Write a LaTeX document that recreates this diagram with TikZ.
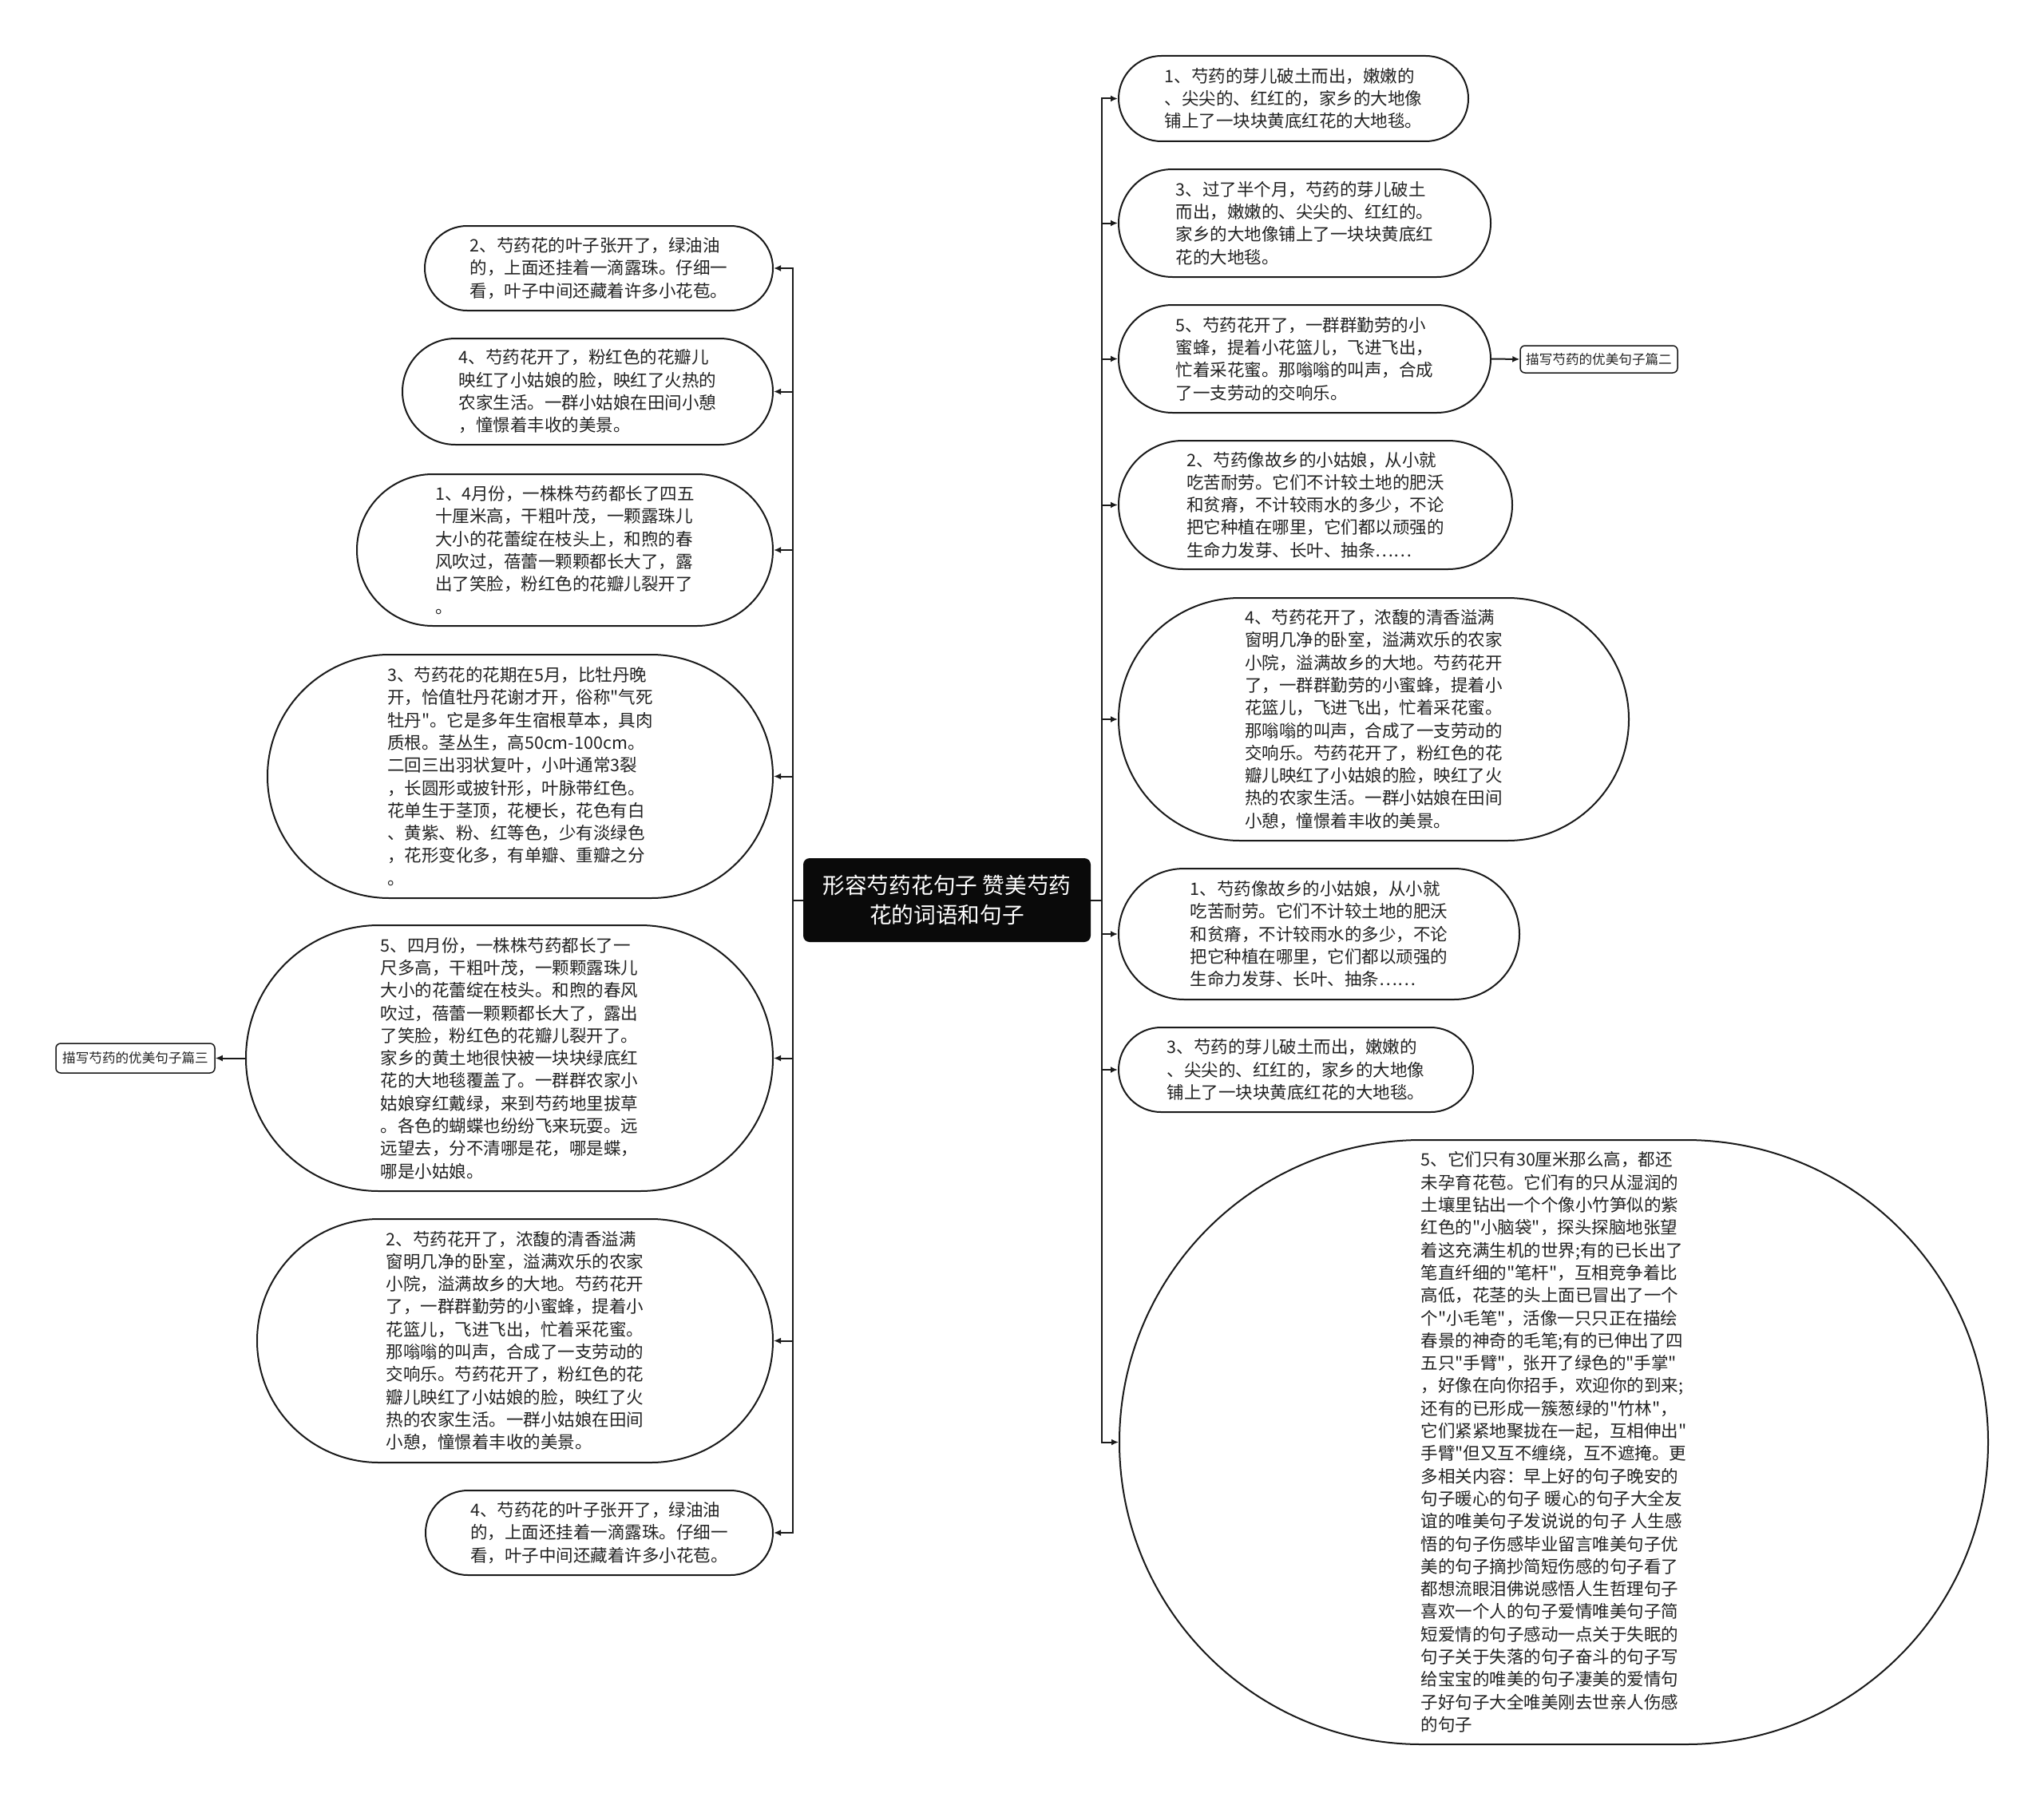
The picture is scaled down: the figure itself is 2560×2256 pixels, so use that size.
\documentclass[tikz,border=0pt]{standalone}
\usepackage{fontspec}
\setmainfont{Noto Sans CJK SC}[Ligatures=TeXOff]
\usepackage{tikz}
\usetikzlibrary{arrows.meta}
\definecolor{ink}{HTML}{222222}
\definecolor{edge}{HTML}{1A1A1A}
\definecolor{rootbg}{HTML}{0A0A0A}
\tikzset{
  leaf/.style={draw=edge, line width=2pt, fill=white, text=ink, inner sep=0pt,
    align=left, font=\fontsize{21.5}{28.3}\selectfont},
  pill/.style 2 args={minimum width=#1, minimum height=#2, rounded corners=#2/2},
  root/.style={fill=rootbg, rounded corners=8pt, text=white, inner sep=0pt, align=center,
    minimum width=360, minimum height=105, font=\fontsize{27.7}{37.5}\selectfont},
  tag/.style={draw=edge, line width=1.5pt, rounded corners=6pt, text=ink, inner sep=0pt,
    font=\fontsize{16.6}{20}\selectfont},
  link/.style={draw=edge, line width=2pt, -{Latex[length=9pt,width=8pt]}}
}

\begin{document}
\begin{tikzpicture}[x=1pt, y=-1pt]
  \useasboundingbox (0,0) rectangle (2560,2256);
  \fill[white] (0,0) rectangle (2560,2256);

  \node[root] (root) at (1186,1127.5) {形容芍药花句子 赞美芍药\\花的词语和句子};

  % left branch
  \node[leaf, pill={436}{106}] (l1) at (750,336)
    {2、芍药花的叶子张开了，绿油油\\的，上面还挂着一滴露珠。仔细一\\看，叶子中间还藏着许多小花苞。};
  \node[leaf, pill={464}{133}] (l2) at (736,490.5)
    {4、芍药花开了，粉红色的花瓣儿\\映红了小姑娘的脸，映红了火热的\\农家生活。一群小姑娘在田间小憩\\，憧憬着丰收的美景。};
  \node[leaf, pill={521}{190}] (l3) at (707.5,689)
    {1、4月份，一株株芍药都长了四五\\十厘米高，干粗叶茂，一颗露珠儿\\大小的花蕾绽在枝头上，和煦的春\\风吹过，蓓蕾一颗颗都长大了，露\\出了笑脸，粉红色的花瓣儿裂开了\\。};
  \node[leaf, pill={633}{305}] (l4) at (651.5,972.5)
    {3、芍药花的花期在5月，比牡丹晚\\开，恰值牡丹花谢才开，俗称"气死\\牡丹"。它是多年生宿根草本，具肉\\质根。茎丛生，高50cm-100cm。\\二回三出羽状复叶，小叶通常3裂\\，长圆形或披针形，叶脉带红色。\\花单生于茎顶，花梗长，花色有白\\、黄紫、粉、红等色，少有淡绿色\\，花形变化多，有单瓣、重瓣之分\\。};
  \node[leaf, pill={660}{333}] (l5) at (638,1325.5)
    {5、四月份，一株株芍药都长了一\\尺多高，干粗叶茂，一颗颗露珠儿\\大小的花蕾绽在枝头。和煦的春风\\吹过，蓓蕾一颗颗都长大了，露出\\了笑脸，粉红色的花瓣儿裂开了。\\家乡的黄土地很快被一块块绿底红\\花的大地毯覆盖了。一群群农家小\\姑娘穿红戴绿，来到芍药地里拔草\\。各色的蝴蝶也纷纷飞来玩耍。远\\远望去，分不清哪是花，哪是蝶，\\哪是小姑娘。};
  \node[leaf, pill={646}{305}] (l6) at (645,1679.5)
    {2、芍药花开了，浓馥的清香溢满\\窗明几净的卧室，溢满欢乐的农家\\小院，溢满故乡的大地。芍药花开\\了，一群群勤劳的小蜜蜂，提着小\\花篮儿，飞进飞出，忙着采花蜜。\\那嗡嗡的叫声，合成了一支劳动的\\交响乐。芍药花开了，粉红色的花\\瓣儿映红了小姑娘的脸，映红了火\\热的农家生活。一群小姑娘在田间\\小憩，憧憬着丰收的美景。};
  \node[leaf, pill={435}{106}] (l7) at (750.5,1920)
    {4、芍药花的叶子张开了，绿油油\\的，上面还挂着一滴露珠。仔细一\\看，叶子中间还藏着许多小花苞。};
  \node[tag, minimum width=199, minimum height=37] (tag3) at (169.5,1325.5) {描写芍药的优美句子篇三};

  % right branch
  \node[leaf, pill={438}{107}] (r1) at (1620,123.5)
    {1、芍药的芽儿破土而出，嫩嫩的\\、尖尖的、红红的，家乡的大地像\\铺上了一块块黄底红花的大地毯。};
  \node[leaf, pill={466}{135}] (r2) at (1634,279.5)
    {3、过了半个月，芍药的芽儿破土\\而出，嫩嫩的、尖尖的、红红的。\\家乡的大地像铺上了一块块黄底红\\花的大地毯。};
  \node[leaf, pill={466}{135}] (r3) at (1634,449.5)
    {5、芍药花开了，一群群勤劳的小\\蜜蜂，提着小花篮儿，飞进飞出，\\忙着采花蜜。那嗡嗡的叫声，合成\\了一支劳动的交响乐。};
  \node[leaf, pill={493}{161}] (r4) at (1647.5,632.5)
    {2、芍药像故乡的小姑娘，从小就\\吃苦耐劳。它们不计较土地的肥沃\\和贫瘠，不计较雨水的多少，不论\\把它种植在哪里，它们都以顽强的\\生命力发芽、长叶、抽条……};
  \node[leaf, pill={639}{304}] (r5) at (1720.5,901)
    {4、芍药花开了，浓馥的清香溢满\\窗明几净的卧室，溢满欢乐的农家\\小院，溢满故乡的大地。芍药花开\\了，一群群勤劳的小蜜蜂，提着小\\花篮儿，飞进飞出，忙着采花蜜。\\那嗡嗡的叫声，合成了一支劳动的\\交响乐。芍药花开了，粉红色的花\\瓣儿映红了小姑娘的脸，映红了火\\热的农家生活。一群小姑娘在田间\\小憩，憧憬着丰收的美景。};
  \node[leaf, pill={502}{164}] (r6) at (1652,1170)
    {1、芍药像故乡的小姑娘，从小就\\吃苦耐劳。它们不计较土地的肥沃\\和贫瘠，不计较雨水的多少，不论\\把它种植在哪里，它们都以顽强的\\生命力发芽、长叶、抽条……};
  \node[leaf, pill={444}{106}] (r7) at (1623,1340)
    {3、芍药的芽儿破土而出，嫩嫩的\\、尖尖的、红红的，家乡的大地像\\铺上了一块块黄底红花的大地毯。};
  \node[leaf, pill={1088}{757}] (r8) at (1946,1806.5)
    {5、它们只有30厘米那么高，都还\\未孕育花苞。它们有的只从湿润的\\土壤里钻出一个个像小竹笋似的紫\\红色的"小脑袋"，探头探脑地张望\\着这充满生机的世界;有的已长出了\\笔直纤细的"笔杆"，互相竞争着比\\高低，花茎的头上面已冒出了一个\\个"小毛笔"，活像一只只正在描绘\\春景的神奇的毛笔;有的已伸出了四\\五只"手臂"，张开了绿色的"手掌"\\，好像在向你招手，欢迎你的到来;\\还有的已形成一簇葱绿的"竹林"，\\它们紧紧地聚拢在一起，互相伸出"\\手臂"但又互不缠绕，互不遮掩。更\\多相关内容：早上好的句子晚安的\\句子暖心的句子 暖心的句子大全友\\谊的唯美句子发说说的句子 人生感\\悟的句子伤感毕业留言唯美句子优\\美的句子摘抄简短伤感的句子看了\\都想流眼泪佛说感悟人生哲理句子\\喜欢一个人的句子爱情唯美句子简\\短爱情的句子感动一点关于失眠的\\句子关于失落的句子奋斗的句子写\\给宝宝的唯美的句子凄美的爱情句\\子好句子大全唯美刚去世亲人伤感\\的句子};
  \node[tag, minimum width=197, minimum height=34] (tag2) at (2002.5,450) {描写芍药的优美句子篇二};

  % connectors
  \foreach \n in {l1,l2,l3,l4,l5,l6,l7}
    \draw[link] (root.west) -- ++(-13,0) |- (\n.east);
  \foreach \n in {r1,r2,r3,r4,r5,r6,r7,r8}
    \draw[link] (root.east) -- ++(14,0) |- (\n.west);
  \draw[link] (l5.west) -- (tag3.east);
  \draw[link] (r3.east) -- (tag2.west);
\end{tikzpicture}
\end{document}
